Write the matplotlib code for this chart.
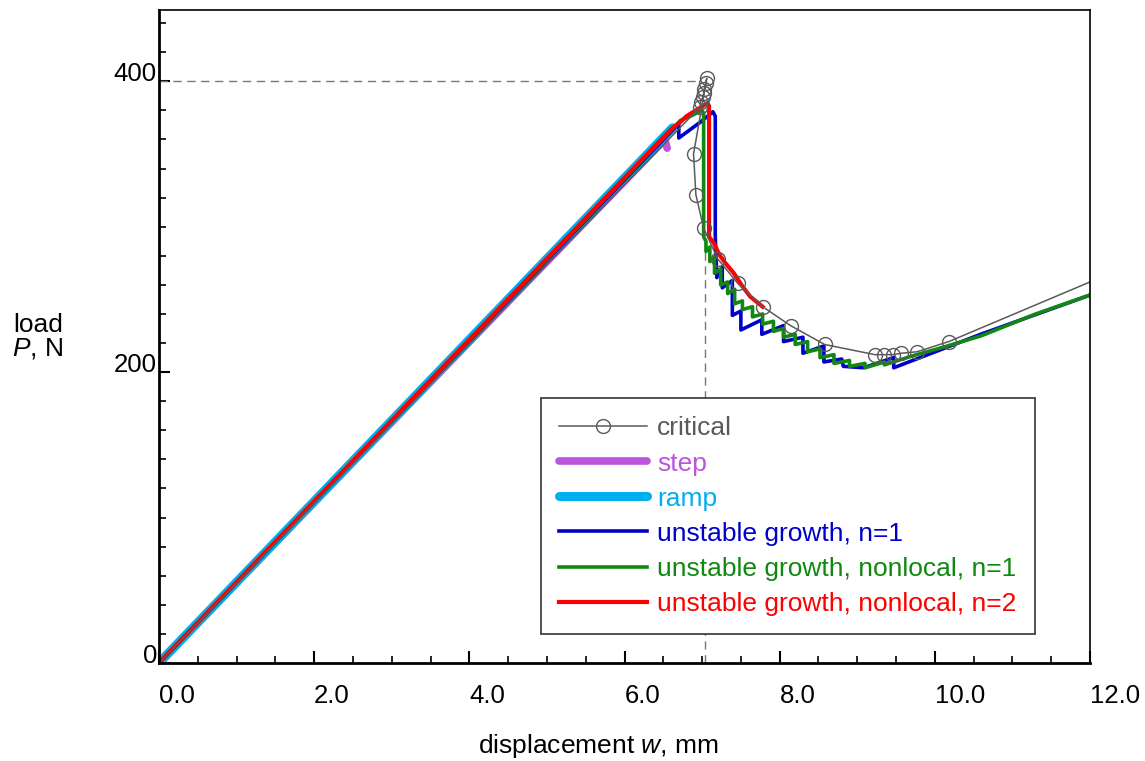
import numpy as np
import matplotlib.pyplot as plt
from matplotlib.ticker import MultipleLocator

plt.rcParams['font.family'] = ['Liberation Sans', 'DejaVu Sans']
plt.rcParams['mathtext.fontset'] = 'custom'
plt.rcParams['mathtext.it'] = 'Liberation Sans:italic'
plt.rcParams['mathtext.rm'] = 'Liberation Sans'

# critical curve (circles on every point except first and last)
crit_w = [0.0, 6.97, 6.98, 7.01, 7.02, 7.03, 7.05, 7.06, 6.89, 6.92, 7.02, 7.20,
          7.46, 7.78, 8.14, 8.58, 9.23, 9.34, 9.46, 9.57, 9.77, 10.18, 12.0]
crit_P = [0, 382, 386, 389, 392, 395, 399, 402, 350, 322, 299, 278,
          261, 245, 232, 219, 212, 212, 212, 213, 214, 221, 262]

step_w = [0.0, 6.52, 6.55]
step_P = [0, 360, 354]

ramp_w = [0.0, 6.62]
ramp_P = [0, 368]

# unstable growth, n=1
blue_w = [0.0, 6.70, 6.70, 6.98, 7.14, 7.17, 7.17, 7.19, 7.26, 7.26, 7.39, 7.39,
          7.50, 7.50, 7.77, 7.77, 8.05, 8.05, 8.30, 8.30, 8.57, 8.57, 8.80, 8.82,
          9.08, 9.47, 9.47, 10.59, 12.0]
blue_P = [0, 371, 361, 372, 379, 376, 293, 265, 272, 258, 263, 239,
          242, 229, 236, 226, 232, 221, 224, 213, 218, 207, 209, 204,
          203, 210, 203, 226, 253]

# unstable growth, nonlocal, n=1
green_w = [0.0, 6.72, 6.85, 7.00, 7.02, 7.02, 7.05, 7.05, 7.10, 7.10, 7.16, 7.16,
           7.24, 7.24, 7.33, 7.33, 7.42, 7.42, 7.52, 7.52, 7.65, 7.65, 7.78, 7.78,
           7.92, 7.92, 8.05, 8.05, 8.20, 8.20, 8.36, 8.36, 8.52, 8.52, 8.70, 8.70,
           8.90, 8.90, 9.10, 9.10, 9.35, 9.35, 9.70, 10.10, 10.60, 11.30, 12.0]
green_P = [0, 373, 376, 380, 378, 293, 290, 283, 286, 276, 279, 268,
           271, 260, 262, 254, 257, 247, 249, 243, 245, 238, 240, 233,
           235, 228, 230, 224, 226, 219, 221, 214, 216, 210, 212, 206,
           208, 204, 206, 203, 207, 205, 211, 217, 225, 240, 253]

# unstable growth, nonlocal, n=2
red_w = [0.0, 6.60, 6.72, 6.80, 6.98, 7.07, 7.09, 7.09, 7.15, 7.22, 7.30, 7.41,
         7.52, 7.62, 7.78]
red_P = [0, 367, 372, 376, 382, 385, 383, 293, 289, 281, 275, 268,
         259, 252, 245]

W, H = 1145, 761
fig = plt.figure(figsize=(W / 100, H / 100), dpi=100)
ax = fig.add_axes([159 / W, 98 / H, 931 / W, 653 / H])

# guide lines
ax.plot([0, 6.94], [400, 400], color='#777777', lw=1, ls=(0, (6, 4)))
ax.plot([7.04, 7.04], [0, 293], color='#777777', lw=1, ls=(0, (6, 4)))

ax.plot(step_w, step_P, color='#BB55DD', lw=5.5, solid_capstyle='round', label='step')
ax.plot(ramp_w, ramp_P, color='#00AEEF', lw=6.5, solid_capstyle='round', label='ramp')
ax.plot(blue_w, blue_P, color='#0000CC', lw=2.6, label='unstable growth, n=1')
ax.plot(green_w, green_P, color='#118811', lw=2.6, label='unstable growth, nonlocal, n=1')
ax.plot(red_w, red_P, color='#FF0000', lw=3.0, label='unstable growth, nonlocal, n=2')
ax.plot(crit_w, crit_P, color='#5a5a5a', lw=1.1, marker='o', ms=10, mfc='none',
        mec='#5a5a5a', mew=1.0, markevery=list(range(1, len(crit_w) - 1)),
        label='critical')

ax.set_xlim(0, 12)
ax.set_ylim(0, 449)

ax.xaxis.set_minor_locator(MultipleLocator(0.5))
ax.yaxis.set_minor_locator(MultipleLocator(20))
ax.set_xticks([0, 2, 4, 6, 8, 10, 12], ['0.0', '2.0', '4.0', '6.0', '8.0', '10.0', '12.0'])
ax.set_yticks([0, 200, 400], ['0', '200', '400'])

ax.tick_params(which='both', direction='in', colors='black', labelsize=18.5)
ax.tick_params(axis='x', which='major', length=9, width=1.5, pad=15)
ax.tick_params(axis='x', which='minor', length=5, width=1.2)
ax.tick_params(axis='y', which='major', length=8, width=1.5, pad=1.5)
ax.tick_params(axis='y', which='minor', length=5, width=1.2)
for lab in ax.get_xticklabels():
    lab.set_ha('left')
for lab in ax.get_yticklabels():
    lab.set_va('baseline')

for s in ['left', 'bottom']:
    ax.spines[s].set_linewidth(2)
for s in ['top', 'right']:
    ax.spines[s].set_linewidth(1.2)

fig.text(38 / W, 1 - 337 / H, 'load\n$P$, N', ha='center', va='center',
         multialignment='center', fontsize=19, linespacing=0.95)
fig.text(598 / W, 1 - 746 / H, 'displacement $w$, mm', ha='center', va='center',
         fontsize=19)

hs, ls = ax.get_legend_handles_labels()
order = [5, 0, 1, 2, 3, 4]
leg = ax.legend([hs[i] for i in order], [ls[i] for i in order],
                loc='upper left', bbox_to_anchor=(541 / W, 1 - 398 / H),
                bbox_transform=fig.transFigure, borderaxespad=0,
                fontsize=19, handlelength=3.3, handletextpad=0.4,
                labelspacing=0.42, borderpad=0.7, labelcolor='linecolor',
                fancybox=False, framealpha=1)
leg.get_frame().set_edgecolor('#333333')
leg.get_frame().set_linewidth(1.2)

fig.savefig('out.png', dpi=100)
